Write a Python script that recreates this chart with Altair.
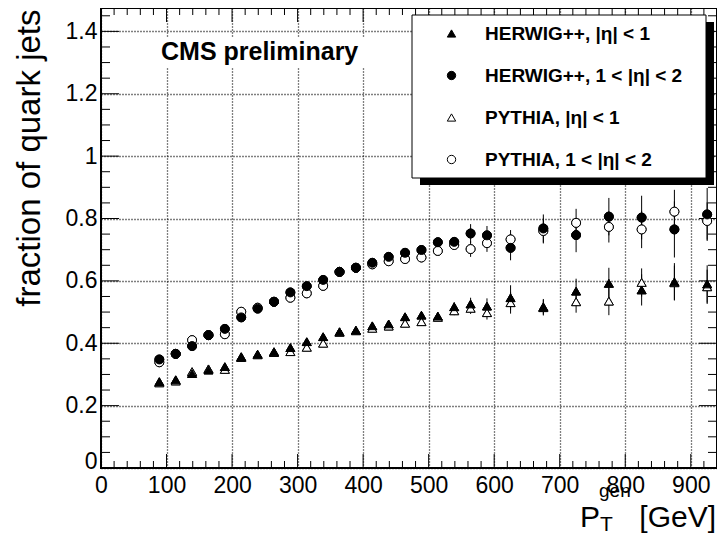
import altair as alt
import pandas as pd

F = "Liberation Sans"

# bin centres (GeV)
pt = [89, 114, 139, 164, 189, 214, 239, 264, 289, 314, 339, 364, 389, 414,
      439, 464, 489, 514, 539, 564, 589, 625, 675, 725, 775, 825, 875, 925]

names = ["HERWIG++, |η| < 1", "HERWIG++, 1 < |η| < 2",
         "PYTHIA, |η| < 1", "PYTHIA, 1 < |η| < 2"]

herwig_c = [0.277, 0.283, 0.303, 0.314, 0.325, 0.357, 0.365, 0.373, 0.386, 0.405,
            0.421, 0.437, 0.442, 0.456, 0.462, 0.485, 0.490, 0.487, 0.517, 0.526,
            0.519, 0.546, 0.517, 0.567, 0.592, 0.571, 0.597, 0.590]
herwig_c_err = [0.006, 0.006, 0.006, 0.006, 0.006, 0.006, 0.006, 0.006, 0.007, 0.007,
                0.007, 0.008, 0.008, 0.008, 0.009, 0.010, 0.011, 0.012, 0.015, 0.020,
                0.025, 0.040, 0.025, 0.040, 0.050, 0.050, 0.060, 0.060]

herwig_f = [0.348, 0.366, 0.391, 0.426, 0.446, 0.483, 0.511, 0.533, 0.563, 0.583,
            0.603, 0.629, 0.642, 0.658, 0.677, 0.690, 0.699, 0.724, 0.725, 0.752,
            0.746, 0.706, 0.768, 0.747, 0.806, 0.803, 0.765, 0.813]
herwig_f_err = [0.006, 0.006, 0.006, 0.006, 0.006, 0.006, 0.006, 0.007, 0.007, 0.007,
                0.008, 0.008, 0.008, 0.009, 0.010, 0.011, 0.012, 0.014, 0.016, 0.030,
                0.030, 0.040, 0.045, 0.055, 0.060, 0.070, 0.090, 0.085]

pythia_c = [0.273, 0.279, 0.309, 0.318, 0.316, 0.354, 0.363, 0.370, 0.373, 0.387,
            0.400, 0.435, 0.440, 0.448, 0.455, 0.464, 0.469, 0.483, 0.504, 0.512,
            0.498, 0.530, 0.514, 0.533, 0.535, 0.595, 0.594, 0.581]
pythia_c_err = [0.006, 0.006, 0.006, 0.006, 0.006, 0.006, 0.006, 0.006, 0.007, 0.007,
                0.007, 0.008, 0.008, 0.008, 0.009, 0.010, 0.011, 0.012, 0.014, 0.018,
                0.022, 0.035, 0.025, 0.035, 0.045, 0.045, 0.055, 0.055]

pythia_f = [0.339, 0.366, 0.410, 0.426, 0.429, 0.501, 0.514, 0.533, 0.546, 0.560,
            0.584, 0.629, 0.642, 0.653, 0.663, 0.670, 0.675, 0.696, 0.715, 0.702,
            0.721, 0.733, 0.760, 0.786, 0.773, 0.765, 0.822, 0.792]
pythia_f_err = [0.006, 0.006, 0.006, 0.006, 0.006, 0.006, 0.006, 0.007, 0.007, 0.007,
                0.008, 0.008, 0.008, 0.009, 0.010, 0.011, 0.012, 0.014, 0.016, 0.025,
                0.028, 0.030, 0.040, 0.045, 0.050, 0.060, 0.070, 0.060]

x_major = [0, 100, 200, 300, 400, 500, 600, 700, 800, 900]
x_minor = [v for v in range(20, 941, 20) if v % 100]
y_major = [0, 0.2, 0.4, 0.6, 0.8, 1, 1.2, 1.4]
y_minor = [0.05, 0.1, 0.15, 0.25, 0.3, 0.35, 0.45, 0.5, 0.55, 0.65, 0.7, 0.75,
           0.85, 0.9, 0.95, 1.05, 1.1, 1.15, 1.25, 1.3, 1.35, 1.45]

rows = []
for name, vals, errs in [(names[2], pythia_c, pythia_c_err),
                         (names[3], pythia_f, pythia_f_err),
                         (names[0], herwig_c, herwig_c_err),
                         (names[1], herwig_f, herwig_f_err)]:
    for x, y, e in zip(pt, vals, errs):
        rows.append({"pt": x, "frac": y, "lo": y - e, "hi": y + e, "series": name})
df = pd.DataFrame(rows)
one = pd.DataFrame({"k": [0]})

W, H = 616, 460
xs = alt.Scale(domain=[0, 940], nice=False, zero=False)
ys = alt.Scale(domain=[0, 1.475], nice=False, zero=False)

x_axis = alt.Axis(values=x_major, format="d", title="", grid=True, ticks=False,
                  tickSize=0, domain=False, labelFontSize=23, labelFont=F,
                  labelColor="black", labelPadding=24, labelBaseline="alphabetic",
                  labelAlign="center", gridColor="black", gridDash=[1, 2],
                  gridWidth=1.3, gridOpacity=1)
y_axis = alt.Axis(values=y_major, format="~g", title="fraction of quark jets",
                  grid=True, ticks=False, tickSize=0, domain=False,
                  labelFontSize=23, labelFont=F, labelColor="black", labelPadding=4,
                  labelAlign="right",
                  labelBaseline={"condition": {"test": "datum.value == 0", "value": "alphabetic"},
                                 "value": "middle"},
                  gridColor="black", gridDash=[1, 2], gridWidth=1.3, gridOpacity=1,
                  titleFont=F, titleFontSize=33, titleFontWeight="normal",
                  titleColor="black", titleAngle=270, titleAlign="right",
                  titleBaseline="alphabetic", titleX=-62, titleY=1)

leg = alt.Legend(orient="none", legendX=341, legendY=16, title=None)

points = alt.Chart(df).mark_point(filled=True, opacity=1, size=80, strokeWidth=1).encode(
    x=alt.X("pt:Q", scale=xs, axis=x_axis),
    y=alt.Y("frac:Q", scale=ys, axis=y_axis),
    shape=alt.Shape("series:N", scale=alt.Scale(domain=names,
                    range=["triangle-up", "circle", "triangle-up", "circle"]), legend=leg),
    fill=alt.Fill("series:N", scale=alt.Scale(domain=names,
                  range=["black", "black", "white", "white"]), legend=leg),
    stroke=alt.Stroke("series:N", scale=alt.Scale(domain=names,
                      range=["black", "black", "black", "black"]), legend=leg),
)

errs = alt.Chart(df).mark_rule(color="black", strokeWidth=1).encode(
    x=alt.X("pt:Q", scale=xs),
    y=alt.Y("lo:Q", scale=ys),
    y2="hi:Q",
)


def xticks(vals, y0, y1):
    return alt.Chart(pd.DataFrame({"pt": vals})).mark_rule(color="black", strokeWidth=1).encode(
        x=alt.X("pt:Q", scale=xs), y=alt.value(y0), y2=alt.value(y1))


def yticks(vals, x0, x1):
    return alt.Chart(pd.DataFrame({"frac": vals})).mark_rule(color="black", strokeWidth=1).encode(
        y=alt.Y("frac:Q", scale=ys), x=alt.value(x0), x2=alt.value(x1))


ticks = [
    xticks(x_major, H - 14, H), xticks(x_minor, H - 7, H),
    xticks(x_major, 0, 14), xticks(x_minor, 0, 7),
    yticks(y_major, 0, 18), yticks(y_minor, 0, 9),
    yticks(y_major, W - 18, W), yticks(y_minor, W - 9, W),
]

shadow = alt.Chart(one).mark_rect(color="black").encode(
    x=alt.value(319), x2=alt.value(613), y=alt.value(14), y2=alt.value(177))
box = alt.Chart(one).mark_rect(fill="white", stroke="black", strokeWidth=1).encode(
    x=alt.value(311), x2=alt.value(605), y=alt.value(7), y2=alt.value(170))
cms_bg = alt.Chart(one).mark_rect(fill="white").encode(
    x=alt.value(10), x2=alt.value(295), y=alt.value(30), y2=alt.value(60))


def label(txt, x, y, size, align="left", weight="normal"):
    return alt.Chart(one).mark_text(text=txt, align=align, baseline="alphabetic",
                                    fontSize=size, font=F, fontWeight=weight,
                                    color="black").encode(x=alt.value(x), y=alt.value(y))


texts = [
    label("CMS preliminary", 60, 52, 25, weight="bold"),
    label("P", 479, 519, 30),
    label("T", 499, 523, 21),
    label("gen", 498, 489, 19),
    label("[GeV]", 615, 519, 30, align="right"),
]

chart = alt.layer(points, *ticks, shadow, box, cms_bg, errs, points, *texts).properties(
    width=W, height=H,
    autosize=alt.AutoSizeParams(type="none"),
    padding={"left": 93, "top": 0, "right": 0, "bottom": 67},
).configure_view(stroke="black", strokeWidth=2).configure_legend(
    padding=0, symbolSize=70, symbolStrokeWidth=1,
    labelFont=F, labelFontSize=19, labelFontWeight="bold", labelColor="black",
    labelOffset=24, rowPadding=22, labelLimit=320,
)

chart.save("out.html", embed_options={"renderer": "svg", "actions": False})
